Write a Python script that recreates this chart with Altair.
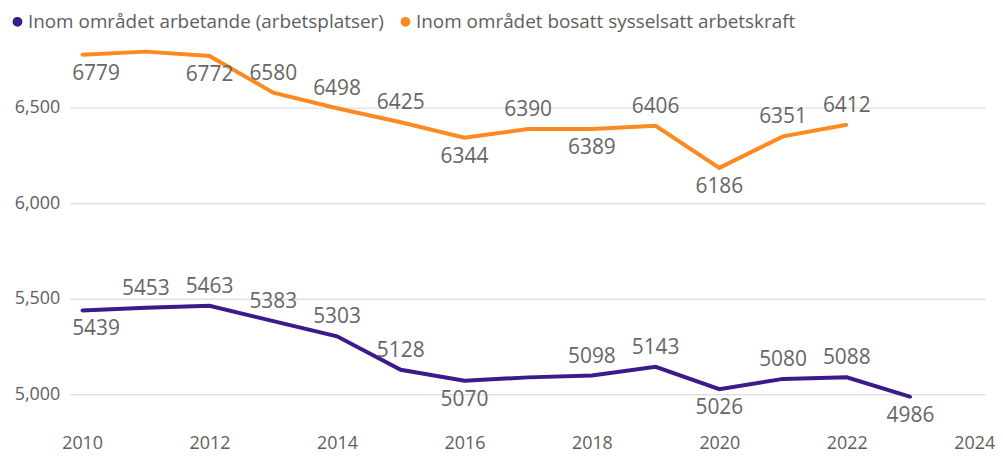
import altair as alt
import pandas as pd

# ---- data ----
S1 = "Inom området arbetande (arbetsplatser)"
S2 = "Inom området bosatt sysselsatt arbetskraft"

years_arbetande = [2010, 2011, 2012, 2013, 2014, 2015, 2016, 2017, 2018, 2019, 2020, 2021, 2022, 2023]
arbetande = [5439, 5453, 5463, 5383, 5303, 5128, 5070, 5088, 5098, 5143, 5026, 5080, 5088, 4986]
place_arbetande = ["below", "above", "above", "above", "above", "above", "below", "none",
                   "above", "above", "below", "above", "above", "below"]

years_bosatt = [2010, 2011, 2012, 2013, 2014, 2015, 2016, 2017, 2018, 2019, 2020, 2021, 2022]
bosatt = [6779, 6795, 6772, 6580, 6498, 6425, 6344, 6390, 6389, 6406, 6186, 6351, 6412]
place_bosatt = ["below", "none", "below", "above", "above", "above", "below", "above",
                "below", "above", "below", "above", "above"]

x_ticks = [2010, 2012, 2014, 2016, 2018, 2020, 2022, 2024]
y_ticks = [5000, 5500, 6000, 6500]

PURPLE = "#3B1A8B"
ORANGE = "#FD8A21"
GREY = "#605E5C"
LABEL_GREY = "#666666"
FONT = "Open Sans"

rows = []
for yr, v, p in zip(years_arbetande, arbetande, place_arbetande):
    rows.append({"year": yr, "value": v, "series": S1, "place": p, "label": str(v)})
for yr, v, p in zip(years_bosatt, bosatt, place_bosatt):
    rows.append({"year": yr, "value": v, "series": S2, "place": p, "label": str(v)})
df = pd.DataFrame(rows)
first_year = min(years_arbetande + years_bosatt)

x = alt.X(
    "year:Q",
    scale=alt.Scale(domain=[2009.805, 2024.17], nice=False, zero=False),
    axis=alt.Axis(values=x_ticks, format="d", grid=False, domain=False, ticks=False,
                  labelFontSize=18, labelColor=GREY, labelPadding=4, labelFlush=False,
                  labelFont=FONT, title=None),
)
y = alt.Y(
    "value:Q",
    scale=alt.Scale(domain=[4807, 6850.9], nice=False, zero=False),
    axis=alt.Axis(values=y_ticks, format=",.0f", domain=False, ticks=False, grid=True,
                  gridColor="#E1E1E1", gridWidth=1.5, labelFontSize=18, labelColor=GREY,
                  labelPadding=10, labelFont=FONT, title=None),
)
color_scale = alt.Scale(domain=[S1, S2], range=[PURPLE, ORANGE])

base = alt.Chart(df)

dots = base.mark_circle(size=10, opacity=1).encode(
    x=x, y=y,
    color=alt.Color(
        "series:N", scale=color_scale,
        legend=alt.Legend(
            title=None, orient="none", direction="horizontal", legendX=-62, legendY=-29,
            symbolType="circle", symbolSize=70, labelFontSize=19, labelColor=GREY,
            labelFont=FONT, labelOffset=1, columnPadding=12, symbolOpacity=1,
            labelLimit=600,
        ),
    ),
)

lines = base.mark_line(strokeWidth=4).encode(
    x=x, y=y,
    color=alt.Color("series:N", scale=color_scale, legend=None),
)

txt = dict(fontSize=21, font=FONT, color=LABEL_GREY, baseline="middle")
mid = base.transform_filter(alt.datum.year != first_year)
first = base.transform_filter(alt.datum.year == first_year)

above = mid.transform_filter(alt.datum.place == "above").mark_text(dy=-19, **txt).encode(
    x=x, y=y, text="label:N")
below = mid.transform_filter(alt.datum.place == "below").mark_text(dy=19, **txt).encode(
    x=x, y=y, text="label:N")
first_above = first.transform_filter(alt.datum.place == "above").mark_text(
    dy=-19, dx=-10, align="left", **txt).encode(x=x, y=y, text="label:N")
first_below = first.transform_filter(alt.datum.place == "below").mark_text(
    dy=19, dx=-10, align="left", **txt).encode(x=x, y=y, text="label:N")

chart = (
    alt.layer(dots, lines, above, below, first_above, first_below)
    .properties(
        width=920, height=392,
        padding={"left": 62, "top": 32, "right": 10, "bottom": 22},
        autosize=alt.AutoSizeParams(type="none"),
        view=alt.ViewConfig(stroke="transparent", strokeWidth=0),
        background="white",
    )
    .configure_view(stroke="transparent", strokeWidth=0)
    .configure(font=FONT)
)

chart.save("out.html", embed_options={"renderer": "svg", "actions": False})
